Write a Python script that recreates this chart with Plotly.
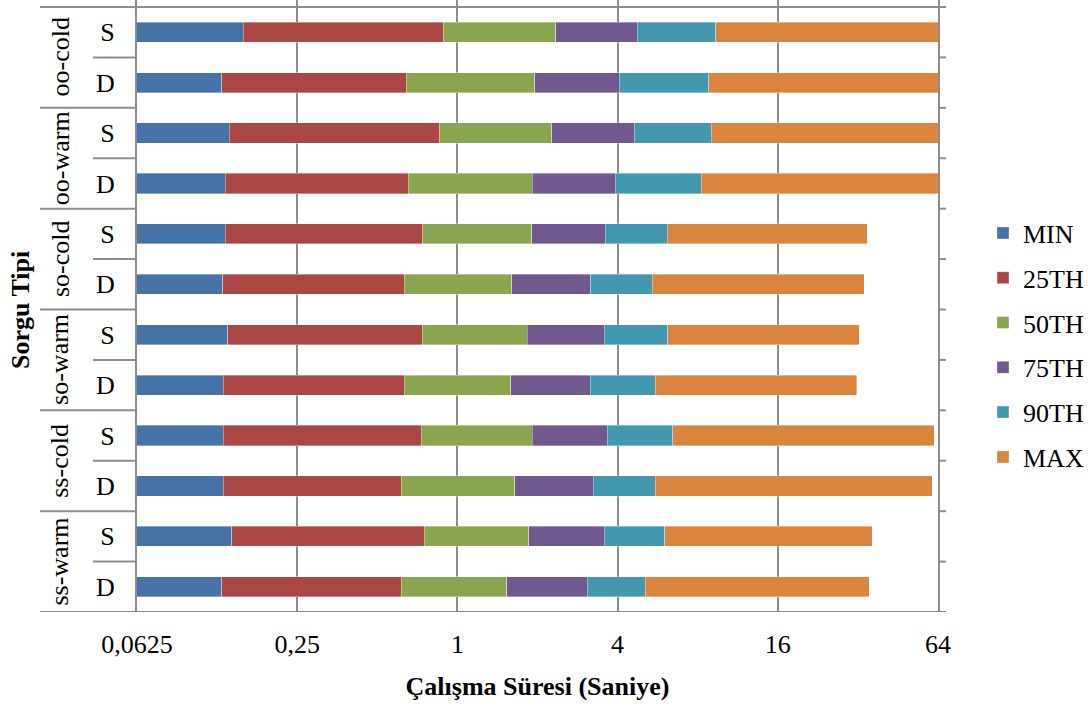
import plotly.graph_objects as go

# Categories (bottom to top)
groups = ["ss-warm", "ss-warm", "ss-cold", "ss-cold", "so-warm", "so-warm",
          "so-cold", "so-cold", "oo-warm", "oo-warm", "oo-cold", "oo-cold"]
subs = ["D", "S", "D", "S", "D", "S", "D", "S", "D", "S", "D", "S"]

# Stacked segment values (seconds)
MIN = [0.130, 0.142, 0.132, 0.132, 0.132, 0.137, 0.131, 0.134, 0.134, 0.139, 0.130, 0.157]
P25 = [0.484, 0.607, 0.482, 0.600, 0.498, 0.601, 0.501, 0.605, 0.520, 0.721, 0.513, 0.731]
P50 = [0.918, 1.104, 1.028, 1.180, 0.960, 1.093, 0.968, 1.164, 1.258, 1.407, 1.309, 1.453]
P75 = [1.545, 1.712, 1.599, 1.747, 1.568, 1.734, 1.577, 1.694, 2.009, 2.343, 2.097, 2.390]
P90 = [2.006, 2.448, 2.302, 2.800, 2.385, 2.606, 2.224, 2.554, 4.332, 4.390, 4.751, 4.619]
MAX = [30.24, 30.14, 55.38, 55.37, 26.13, 26.22, 28.42, 28.47, 61.7, 61.0, 61.2, 60.6]

series_names = ["MIN", "25TH", "50TH", "75TH", "90TH", "MAX"]
series_values = [MIN, P25, P50, P75, P90, MAX]
colors = ["#4572A7", "#AA4643", "#89A54E", "#71588F", "#4198AF", "#DB843D"]

tick_vals = [0.0625, 0.25, 1, 4, 16, 64]
tick_text = ["0,0625", "0,25", "1", "4", "16", "64"]

FONT = "Liberation Serif"
GRAY = "#8c8c8c"

cats = [f"{g} {s}" for g, s in zip(groups, subs)]

fig = go.Figure()
for name, vals, col in zip(series_names, series_values, colors):
    fig.add_trace(go.Bar(
        y=cats, x=vals, name=name, orientation="h", legendgroup=name,
        marker=dict(color=col, line=dict(color="rgba(255,255,255,0.45)", width=0.8)),
    ))

W, H = 1088, 713
L, R, T, B = 137, 150, 0, 101
pw = W - L - R

def px2paper(px):
    return (px - L) / pw

shapes = []
line = dict(color=GRAY, width=2)
# top and bottom lines
for yv in [-0.5, len(cats) - 0.5]:
    shapes.append(dict(type="line", xref="paper", yref="y", x0=px2paper(40), x1=px2paper(946),
                       y0=yv, y1=yv, line=line, layer="above"))
# category dividers on the left
for i in range(len(cats) - 1):
    yv = i + 0.5
    if groups[i] != groups[i + 1]:
        x0 = px2paper(40)
    else:
        x0 = px2paper(93)
    shapes.append(dict(type="line", xref="paper", yref="y", x0=x0, x1=0,
                       y0=yv, y1=yv, line=line, layer="above"))
# right-side ticks
for i in range(len(cats) + 1):
    yv = i - 0.5
    shapes.append(dict(type="line", xref="paper", yref="y", x0=1, x1=px2paper(946),
                       y0=yv, y1=yv, line=line, layer="above"))

annotations = []
# group labels
seen = []
for i, g in enumerate(groups):
    if g in seen:
        continue
    seen.append(g)
    idx = [j for j, gg in enumerate(groups) if gg == g]
    annotations.append(dict(text=g, xref="paper", yref="y", x=px2paper(60),
                            y=sum(idx) / len(idx), textangle=-90, showarrow=False,
                            font=dict(family=FONT, size=26, color="#000"),
                            xanchor="center", yanchor="middle"))
# y-axis title
annotations.append(dict(text="<b>Sorgu Tipi</b>", xref="paper", yref="paper", x=px2paper(20),
                        y=(612 - 310) / 612, textangle=-90, showarrow=False,
                        font=dict(family=FONT, size=26, color="#000"),
                        xanchor="center", yanchor="middle"))

fig.update_layout(
    width=W, height=H,
    margin=dict(l=L, r=R, t=T, b=B, autoexpand=False),
    barmode="stack", bargap=0.6,
    plot_bgcolor="white", paper_bgcolor="white",
    font=dict(family=FONT, size=26, color="#000"),
    shapes=shapes, annotations=annotations,
    legend=dict(x=px2paper(983), xanchor="left", y=(612 - 345) / 612, yanchor="middle",
                traceorder="grouped", tracegroupgap=8,
                font=dict(family=FONT, size=26, color="#000"),
                bgcolor="rgba(0,0,0,0)"),
    xaxis=dict(type="log", range=[-1.20412, 1.80618], tickvals=tick_vals, ticktext=tick_text,
               showgrid=True, gridcolor=GRAY, gridwidth=2, zeroline=False,
               showline=False, ticks="", ticklabelstandoff=14,
               tickfont=dict(family=FONT, size=26, color="#000"),
               title=dict(text="<b>Çalışma Süresi (Saniye)</b>", standoff=18,
                          font=dict(family=FONT, size=26, color="#000"))),
    yaxis=dict(type="category", categoryorder="array", categoryarray=cats,
               range=[-0.5, len(cats) - 0.5 + 0.1388],
               tickvals=cats, ticktext=subs, showgrid=False,
               showline=True, mirror=True, linecolor=GRAY, linewidth=2,
               ticks="", ticklabelstandoff=15,
               tickfont=dict(family=FONT, size=26, color="#000")),
)

fig.write_html("out.html")
